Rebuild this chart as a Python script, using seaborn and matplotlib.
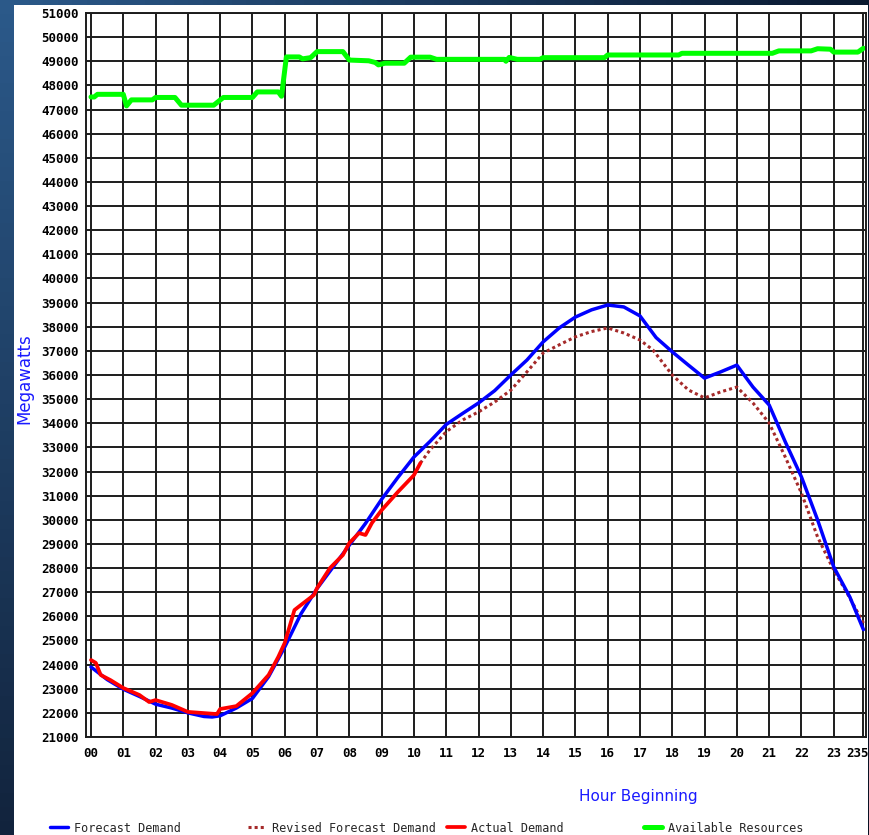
import numpy as np
import pandas as pd
import matplotlib.pyplot as plt
import seaborn as sns
from matplotlib.patches import Rectangle
from matplotlib.transforms import offset_copy

# hours are decimal hours of the day, values in megawatts
forecast_hours = [0, 0.5, 1, 1.5, 2, 2.5, 3, 3.5, 3.75, 4, 4.5, 5, 5.5, 6, 6.5, 7, 7.5, 8,
                  8.5, 9, 9.5, 10, 10.5, 11, 11.5, 12, 12.5, 13, 13.5, 14, 14.5, 15, 15.5,
                  16, 16.5, 17, 17.5, 18, 18.5, 19, 19.5, 20, 20.5, 21, 21.5, 22, 22.5, 23,
                  23.5, 23.92]
forecast_mw = [23900, 23380, 22980, 22680, 22360, 22200, 22000, 21850, 21830, 21880, 22200,
               22600, 23500, 24730, 26100, 27150, 28050, 28950, 29850, 30850, 31750, 32600,
               33250, 33950, 34400, 34840, 35350, 36000, 36620, 37370, 37950, 38400, 38700,
               38900, 38820, 38450, 37550, 36960, 36410, 35870, 36130, 36410, 35500, 34760,
               33230, 31780, 30000, 28050, 26800, 25450]

actual_hours = [0, 0.15, 0.3, 0.6, 1, 1.5, 1.8, 2.0, 2.5, 3, 3.5, 3.9, 4.0, 4.5, 5, 5.5,
                5.8, 6.0, 6.3, 6.5, 6.9, 7.0, 7.4, 7.8, 8.0, 8.3, 8.5, 8.7, 9.0, 9.5, 10.0,
                10.2]
actual_mw = [24190, 24070, 23570, 23360, 23030, 22740, 22450, 22530, 22330, 22040, 21990,
             21950, 22160, 22280, 22820, 23570, 24320, 24900, 26260, 26470, 26880, 27170,
             28000, 28540, 29040, 29450, 29370, 29870, 30400, 31150, 31850, 32350]

revised_hours = [10.2, 10.5, 11, 11.5, 12, 12.5, 13, 13.5, 14, 14.5, 15, 15.5, 16, 16.5, 17,
                 17.4, 18, 18.5, 19, 19.5, 20, 20.5, 21, 21.5, 22, 22.5, 23, 23.5, 23.92]
revised_mw = [32350, 32900, 33650, 34130, 34470, 34880, 35370, 36130, 36910, 37250, 37580,
              37800, 37950, 37740, 37450, 37040, 36000, 35380, 35050, 35300, 35500, 34840,
              34010, 32600, 31110, 29290, 27920, 26760, 25720]

avail_hours = [0, 0.1, 0.2, 1.0, 1.1, 1.25, 1.9, 2.0, 2.6, 2.8, 3.8, 4.1, 5.0, 5.15, 5.8,
               5.9, 6.05, 6.45, 6.55, 6.8, 7.0, 7.8, 8.0, 8.6, 8.8, 8.9, 9.1, 9.7, 9.9, 10.5,
               10.7, 12.8, 12.85, 12.95, 13.2, 13.9, 14.0, 15.9, 16.0, 18.2, 18.3, 21.1, 21.3,
               22.3, 22.5, 22.9, 23.0, 23.75, 23.92]
avail_mw = [47520, 47520, 47630, 47630, 47150, 47400, 47400, 47500, 47500, 47180, 47180,
            47500, 47500, 47730, 47730, 47550, 49180, 49180, 49100, 49150, 49400, 49400,
            49050, 49020, 48950, 48850, 48920, 48920, 49170, 49170, 49080, 49080, 49000,
            49160, 49080, 49080, 49150, 49150, 49260, 49260, 49330, 49330, 49430, 49430,
            49520, 49500, 49380, 49380, 49540]

tick_hours = list(range(24)) + [23 + 55 / 60]
tick_labels = ['%02d' % h for h in range(24)] + ['235']
y_ticks = list(range(21000, 51001, 1000))

sns.set_theme(style="white")
plt.rcParams['font.family'] = ['DejaVu Sans Mono']

fig = plt.figure(figsize=(8.69, 8.35), dpi=100)

# dark blue gradient backdrop
bg = fig.add_axes([0, 0, 1, 1], zorder=-10)
tl = np.array([0.17, 0.35, 0.54])
tr = np.array([0.04, 0.10, 0.19])
bl = np.array([0.07, 0.14, 0.24])
br = np.array([0.03, 0.07, 0.14])
u = np.linspace(0, 1, 60)[None, :, None]
v = np.linspace(0, 1, 60)[:, None, None]
grad = (1 - v) * ((1 - u) * tl + u * tr) + v * ((1 - u) * bl + u * br)
bg.imshow(grad, aspect='auto', extent=[0, 1, 0, 1])
bg.axis('off')

fig.patches.append(Rectangle((14 / 869, 0), 854 / 869, 1 - 5 / 835,
                             transform=fig.transFigure, facecolor='white',
                             edgecolor='none', zorder=-5))

ax = fig.add_axes([86 / 869, 1 - 737 / 835, 780 / 869, 724 / 835])
ax.set_facecolor('white')

sns.lineplot(x=avail_hours, y=avail_mw, ax=ax, color='#00ff00', lw=3.6,
             label='Available Resources')
sns.lineplot(x=revised_hours, y=revised_mw, ax=ax, color='#a52a2a', lw=2.2,
             linestyle=(0, (1, 1)), label='Revised Forecast Demand')
sns.lineplot(x=forecast_hours, y=forecast_mw, ax=ax, color='#0000ff', lw=2.5,
             label='Forecast Demand')
sns.lineplot(x=actual_hours, y=actual_mw, ax=ax, color='#ff0000', lw=2.7,
             label='Actual Demand')

ax.set_xlim(-0.155, 24.0)
ax.set_ylim(21000, 51000)
ax.set_xticks(tick_hours)
ax.set_xticklabels(tick_labels)
ax.set_yticks(y_ticks)
ax.set_yticklabels([str(t) for t in y_ticks])
ax.set_axisbelow(True)
ax.grid(True, color='#1c1c1c', lw=1.4)
for s in ax.spines.values():
    s.set_color('#1c1c1c')
    s.set_linewidth(1.4)
ax.tick_params(length=0, labelsize=9, colors='black')
ax.tick_params(axis='y', pad=5)
ax.tick_params(axis='x', pad=7)
for lbl in ax.get_xticklabels() + ax.get_yticklabels():
    lbl.set_fontweight('bold')
# last label is the 23:55 tick, squeezed against the right edge
last = ax.get_xticklabels()[-1]
last.set_horizontalalignment('right')
last.set_transform(offset_copy(last.get_transform(), fig=fig, x=5, units='dots'))
ax.set_xlabel('')
ax.set_ylabel('')

handles, labels = ax.get_legend_handles_labels()
ax.get_legend().remove()
lookup = dict(zip(labels, handles))

fig.text(638 / 869, 1 - 797 / 835, 'Hour Beginning', color='#1a1aff', fontsize=11,
         family='DejaVu Sans', ha='center', va='center')
fig.text(24 / 869, 1 - 379 / 835, 'Megawatts', color='#1a1aff', fontsize=12,
         family='DejaVu Sans', rotation=90, ha='center', va='center')

# legend entries sit at fixed spots along the bottom
for name, xpos in [('Forecast Demand', 50), ('Revised Forecast Demand', 248),
                   ('Actual Demand', 447), ('Available Resources', 644)]:
    fig.legend(handles=[lookup[name]], labels=[name], loc='center left',
               bbox_to_anchor=(xpos / 869, 1 - 828 / 835), frameon=False,
               fontsize=8.5, handlelength=1.55, handletextpad=0.45,
               borderpad=0, borderaxespad=0)

fig.savefig('out.png', dpi=100)
